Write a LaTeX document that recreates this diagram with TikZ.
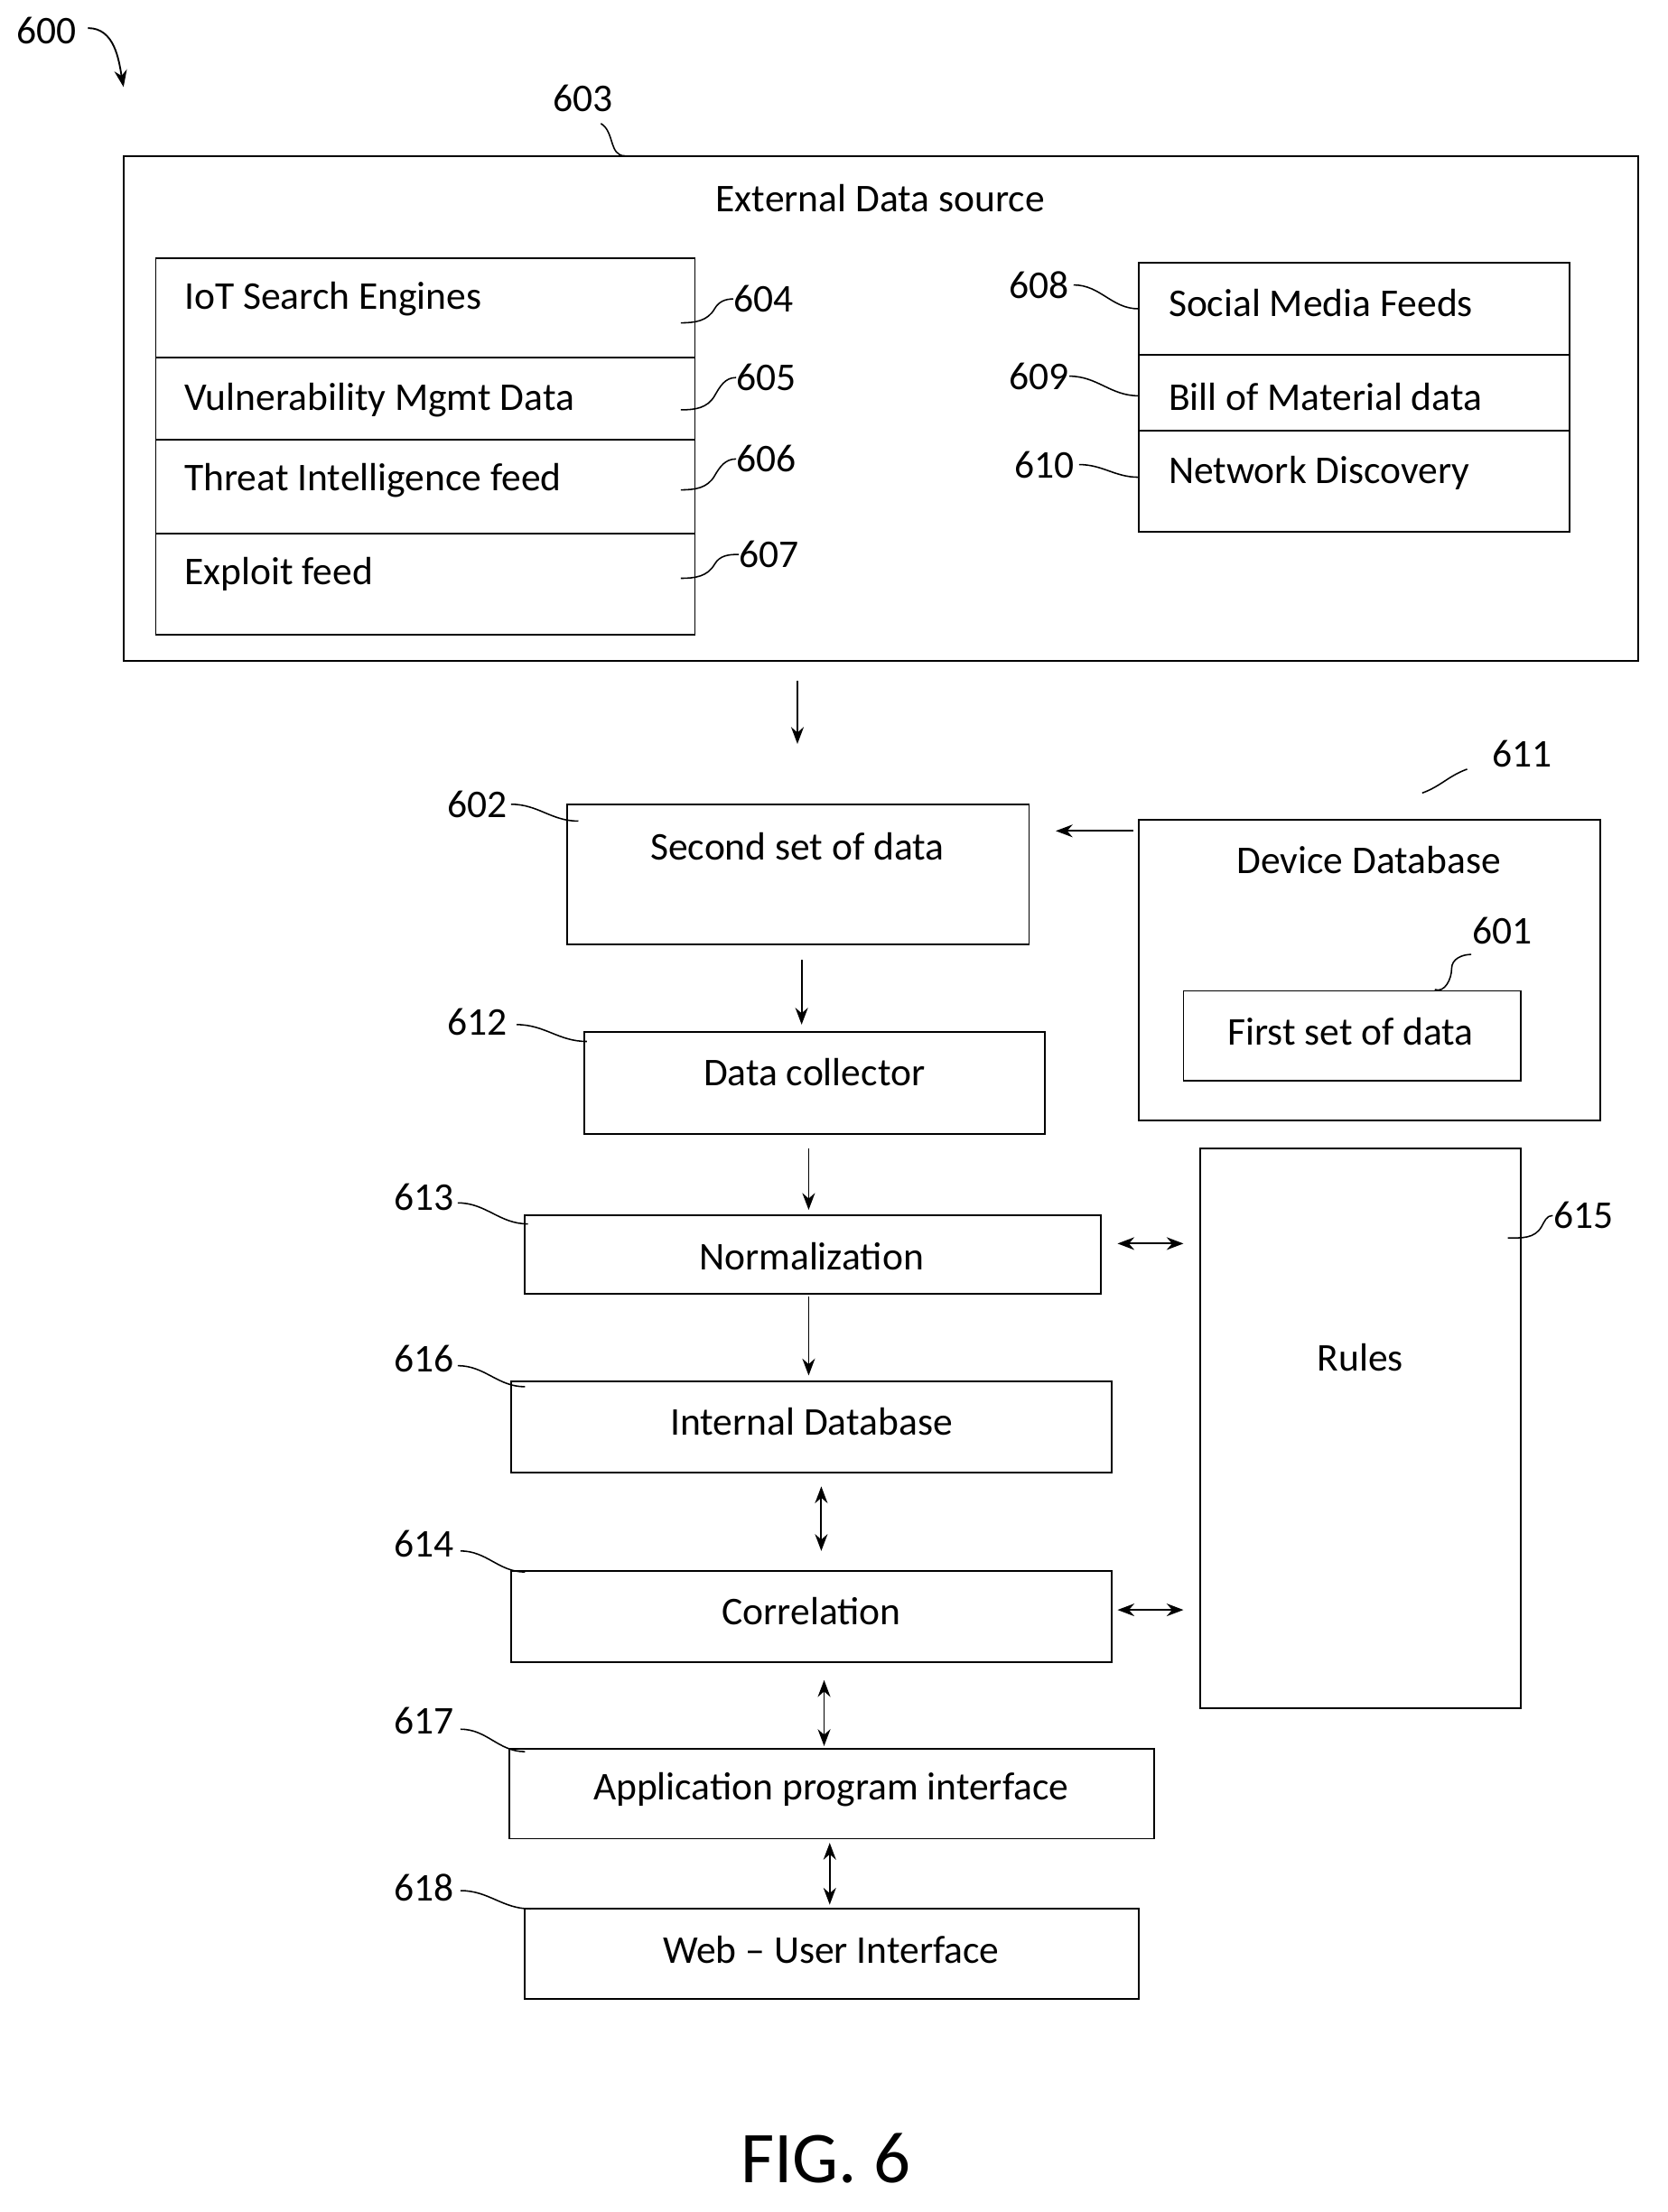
\documentclass[tikz,border=0pt]{standalone}
\usepackage{fontspec}
\setmainfont{Carlito}
\usetikzlibrary{fit,arrows.meta}
\begin{document}
\begin{tikzpicture}[x=0.5pt,y=-0.5pt,
  box/.style={draw,inner sep=0pt,line width=0.6pt},
  txt/.style={font=\fontsize{14}{16}\selectfont,inner sep=0pt},
  lt/.style={txt,anchor=west},
  num/.style={font=\fontsize{14}{16}\selectfont,inner sep=0pt},
  lead/.style={line width=0.5pt},
  arr/.style={line width=0.6pt,-{Stealth[length=6pt,width=4.5pt]}},
  darr/.style={line width=0.6pt,{Stealth[length=6pt,width=4.5pt]}-{Stealth[length=6pt,width=4.5pt]}}]
\useasboundingbox (0,0) rectangle (1188,1576);
% 600
\node[num] (n600) at (33,22) {600};
\coordinate (c600) at (88,62);
\draw[arr] (n600.east)++(8,-2) to[out=0,in=100] (c600);
% outer box
\node[box,fit={(88,111)(1167,471)}] (ext) {};
\node[txt] (extt) at (627,141) {External Data source};
\node[num] (n603) at (415,70) {603};
\draw[lead] (428,88) to[out=-30,in=180] (445,111);
% left stack
\node[box,fit={(111,184)(495,255)}] (iot) {};
\node[box,fit={(111,255)(495,313)}] (vul) {};
\node[box,fit={(111,313)(495,380)}] (thr) {};
\node[box,fit={(111,380)(495,452)}] (exp) {};
\node[lt] at (131,213) {IoT Search Engines};
\node[lt] at (131,285) {Vulnerability Mgmt Data};
\node[lt] at (131,342) {Threat Intelligence feed};
\node[lt] at (131,409) {Exploit feed};
\node[num] (n604) at (544,213) {604};
\node[num] (n605) at (546,269) {605};
\node[num] (n606) at (546,327) {606};
\node[num] (n607) at (548,395) {607};
\draw[lead] (485,230) to[out=0,in=-120] (509,220) to[out=60,in=180] (n604.west);
\draw[lead] (485,292) to[out=0,in=-120] (509,282) to[out=60,in=180] (n605.west);
\draw[lead] (485,349) to[out=0,in=-120] (509,339) to[out=60,in=180] (n606.west);
\draw[lead] (485,412) to[out=0,in=-120] (509,402) to[out=60,in=180] (n607.west);
% right stack
\node[box,fit={(811,187)(1118,253)}] (soc) {};
\node[box,fit={(811,253)(1118,307)}] (bom) {};
\node[box,fit={(811,307)(1118,379)}] (net) {};
\node[lt] at (832,216) {Social Media Feeds};
\node[lt] at (832,283) {Bill of Material data};
\node[lt] at (832,337) {Network Discovery};
\node[num] (n608) at (740,203) {608};
\node[num] (n609) at (740,268) {609};
\node[num] (n610) at (744,331) {610};
\draw[lead] (n608.east) ++(3,0) to[out=0,in=180] (811,220);
\draw[lead] (n609.east) ++(0,0) to[out=0,in=180] (811,282);
\draw[lead] (n610.east) ++(3,0) to[out=0,in=180] (811,340);
% arrow down
\draw[arr] (568,485) -- (568,530);
% second set
\node[box,fit={(404,573)(733,673)}] (sec) {};
\node[txt] at (568,603) {Second set of data};
\node[num] (n602) at (340,573) {602};
\draw[lead] (364,573) to[out=0,in=180] (412,585);
% device db
\node[box,fit={(811,584)(1140,798)}] (dev) {};
\node[txt] at (975,613) {Device Database};
\node[num] (n611) at (1084,537) {611};
\draw[lead] (1013,565) to[out=20,in=200] (1045,548);
\node[box,fit={(843,706)(1083,770)}] (fst) {};
\node[txt] at (962,735) {First set of data};
\node[num] (n601) at (1070,663) {601};
\draw[lead] (1022,705) to[out=-20,in=-90] (1034,690) to[out=90,in=180] (1048,680);
\draw[arr] (807,592) -- (752,592);
% data collector
\draw[arr] (571,684) -- (571,730);
\node[box,fit={(416,735)(744,808)}] (col) {};
\node[txt] at (580,764) {Data collector};
\node[num] (n612) at (340,728) {612};
\draw[lead] (368,730) to[out=0,in=180] (418,742);
% normalization
\draw[arr] (576,818) -- (576,862);
\node[box,fit={(374,866)(784,922)}] (nor) {};
\node[txt] at (578,895) {Normalization};
\node[num] (n613) at (302,853) {613};
\draw[lead] (326,857) to[out=0,in=180] (376,872);
\draw[darr] (796,886) -- (843,886);
% rules
\node[box,fit={(855,818)(1083,1217)}] (rul) {};
\node[txt] at (969,967) {Rules};
\node[num] (n615) at (1128,866) {615};
\draw[lead] (1074,882) to[out=0,in=-120] (1098,874) to[out=60,in=180] (1106,866);
% internal db
\draw[arr] (576,924) -- (576,980);
\node[box,fit={(364,984)(792,1049)}] (idb) {};
\node[txt] at (578,1013) {Internal Database};
\node[num] (n616) at (302,968) {616};
\draw[lead] (326,973) to[out=0,in=180] (374,988);
\draw[darr] (585,1059) -- (585,1105);
% correlation
\node[box,fit={(364,1119)(792,1184)}] (cor) {};
\node[txt] at (578,1148) {Correlation};
\node[num] (n614) at (302,1100) {614};
\draw[lead] (328,1105) to[out=0,in=180] (374,1120);
\draw[darr] (796,1147) -- (843,1147);
\draw[darr] (587,1197) -- (587,1244);
% API
\node[box,fit={(363,1246)(822,1310)}] (api) {};
\node[txt] at (592,1275) {Application program interface};
\node[num] (n617) at (302,1226) {617};
\draw[lead] (328,1232) to[out=0,in=180] (374,1248);
\draw[darr] (591,1313) -- (591,1357);
% Web UI
\node[box,fit={(374,1360)(811,1424)}] (web) {};
\node[txt] at (592,1389) {Web – User Interface};
\node[num] (n618) at (302,1345) {618};
\draw[lead] (328,1347) to[out=0,in=180] (378,1360);
% fig
\node[font=\fontsize{26}{30}\selectfont,inner sep=0pt] (fig) at (588,1538) {FIG. 6};
\end{tikzpicture}
\end{document}
